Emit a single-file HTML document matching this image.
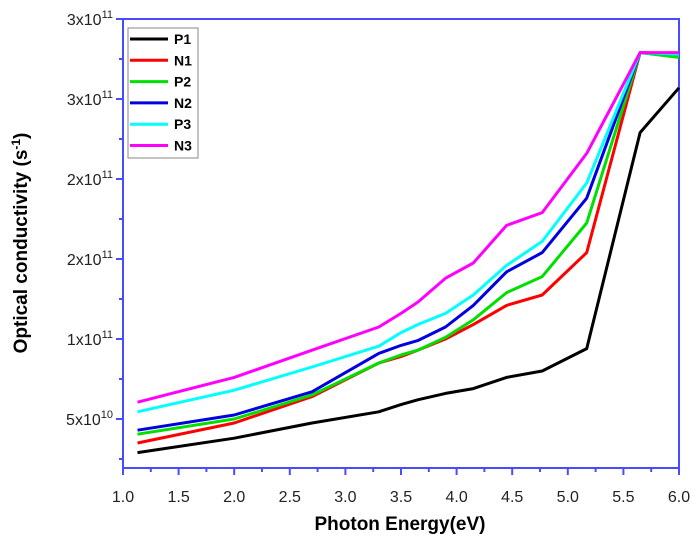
<!DOCTYPE html>
<html><head><meta charset="utf-8"><style>
body{margin:0;background:#fff;}
svg{display:block;font-family:"Liberation Sans",Arial,sans-serif;}
</style></head><body>
<svg id="chart" width="700" height="550" viewBox="0 0 700 550">
<g id="axes"></g><g id="series"></g><g id="legend"></g>
<text x="400" y="530" text-anchor="middle" font-size="19" font-weight="bold">Photon Energy(eV)</text>
<text transform="translate(27,243) rotate(-90)" text-anchor="middle" font-size="19" font-weight="bold">Optical conductivity (s<tspan dy="-7" font-size="12">-1</tspan><tspan dy="7">)</tspan></text>
</svg>
<script>
const energies=[1.13,2.0,2.7,3.3,3.5,3.65,3.9,4.15,4.45,4.77,5.17,5.65,6.0];
const P1=[2.9,3.8,4.75,5.45,5.9,6.2,6.6,6.9,7.6,8.0,9.4,22.9,25.7];
const N1=[3.5,4.75,6.4,8.5,8.9,9.3,10.0,10.9,12.1,12.75,15.4,27.9,27.8];
const P2=[4.05,5.0,6.5,8.5,9.0,9.3,10.1,11.2,12.9,13.9,17.25,27.9,27.6];
const N2=[4.3,5.25,6.7,9.1,9.6,9.9,10.75,12.1,14.2,15.4,18.8,27.9,27.8];
const P3=[5.45,6.8,8.25,9.55,10.4,10.9,11.6,12.75,14.6,16.1,19.75,27.9,27.8];
const N3=[6.05,7.6,9.3,10.75,11.6,12.3,13.8,14.75,17.1,17.9,21.6,27.9,27.9];
const seriesNames=["P1","N1","P2","N2","P3","N3"];
const seriesColors=["#000000","#ff0000","#00e000","#0000e0","#00ffff","#ff00ff"];
const xTicks=[1.0,1.5,2.0,2.5,3.0,3.5,4.0,4.5,5.0,5.5,6.0];
const xTickLabels=["1.0","1.5","2.0","2.5","3.0","3.5","4.0","4.5","5.0","5.5","6.0"];
const yTicks=[5,10,15,20,25,30];
const yTickMant=["5x10","1x10","2x10","2x10","3x10","3x10"];
const yTickExp=["10","11","11","11","11","11"];
const allSeries=[P1,N1,P2,N2,P3,N3];

const L=123,R=679,T=19,B=468;
const X=v=>L+(v-1)*(R-L)/5;
const Y=v=>419-(v-5)*16;
const NS="http://www.w3.org/2000/svg";
function mk(tag,attrs,parent){const e=document.createElementNS(NS,tag);for(const k in attrs)e.setAttribute(k,attrs[k]);parent.appendChild(e);return e;}
const axes=document.getElementById('axes');
const frame=mk('rect',{x:L,y:T,width:R-L,height:B-T,fill:'none',stroke:'#4a4aff','stroke-width':2},axes);


for(let i=0;i<xTicks.length;i++){
  const x=X(xTicks[i]);
  const t=mk('line',{x1:x,x2:x,y1:B,y2:B+7,stroke:'#4a4aff','stroke-width':2},axes);
  
  
  const tx=mk('text',{x:x,y:502,'text-anchor':'middle','font-size':16,fill:'#222'},axes);
  tx.textContent=xTickLabels[i];
  
  
  if(i<xTicks.length-1){const xm=X(xTicks[i]+0.25);
    const m=mk('line',{x1:xm,x2:xm,y1:B,y2:B+4,stroke:'#4a4aff','stroke-width':2},axes);
    
    }
}
for(let i=0;i<yTicks.length;i++){
  const y=Y(yTicks[i]);
  const t=mk('line',{x1:L-7,x2:L,y1:y,y2:y,stroke:'#4a4aff','stroke-width':2},axes);
  
  
  const ym=Y(yTicks[i]-2.5);
  const m=mk('line',{x1:L-4,x2:L,y1:ym,y2:ym,stroke:'#4a4aff','stroke-width':2},axes);
  
  
  const tx=mk('text',{x:113,y:y+6,'text-anchor':'end','font-size':16,fill:'#222'},axes);
  
  
  const a=document.createElementNS(NS,'tspan');a.textContent=yTickMant[i];tx.appendChild(a);
  const b=document.createElementNS(NS,'tspan');b.setAttribute('dy','-7');b.setAttribute('font-size','11');b.textContent=yTickExp[i];tx.appendChild(b);
}
const sg=document.getElementById('series');
allSeries.forEach((arr,i)=>{
  const pts=arr.map((v,j)=>X(energies[j]).toFixed(1)+','+Y(v).toFixed(1)).join(' ');
  const p=mk('polyline',{points:pts,fill:'none',stroke:seriesColors[i],'stroke-width':3,'stroke-linejoin':'round'},sg);
  
  
});
const lg=document.getElementById('legend');
const box=mk('rect',{x:128,y:28,width:70,height:130,fill:'#fff',stroke:'#888','stroke-width':1},lg);


seriesNames.forEach((n,i)=>{
  const y=39+i*21.3;
  const g=mk('g',{},lg);
  
  
  mk('line',{x1:130,x2:168,y1:y,y2:y,stroke:seriesColors[i],'stroke-width':3},g);
  const t=mk('text',{x:174,y:y+5,'font-size':14,'font-weight':'bold'},g);
  t.textContent=n;
});
</script>
</body></html>
